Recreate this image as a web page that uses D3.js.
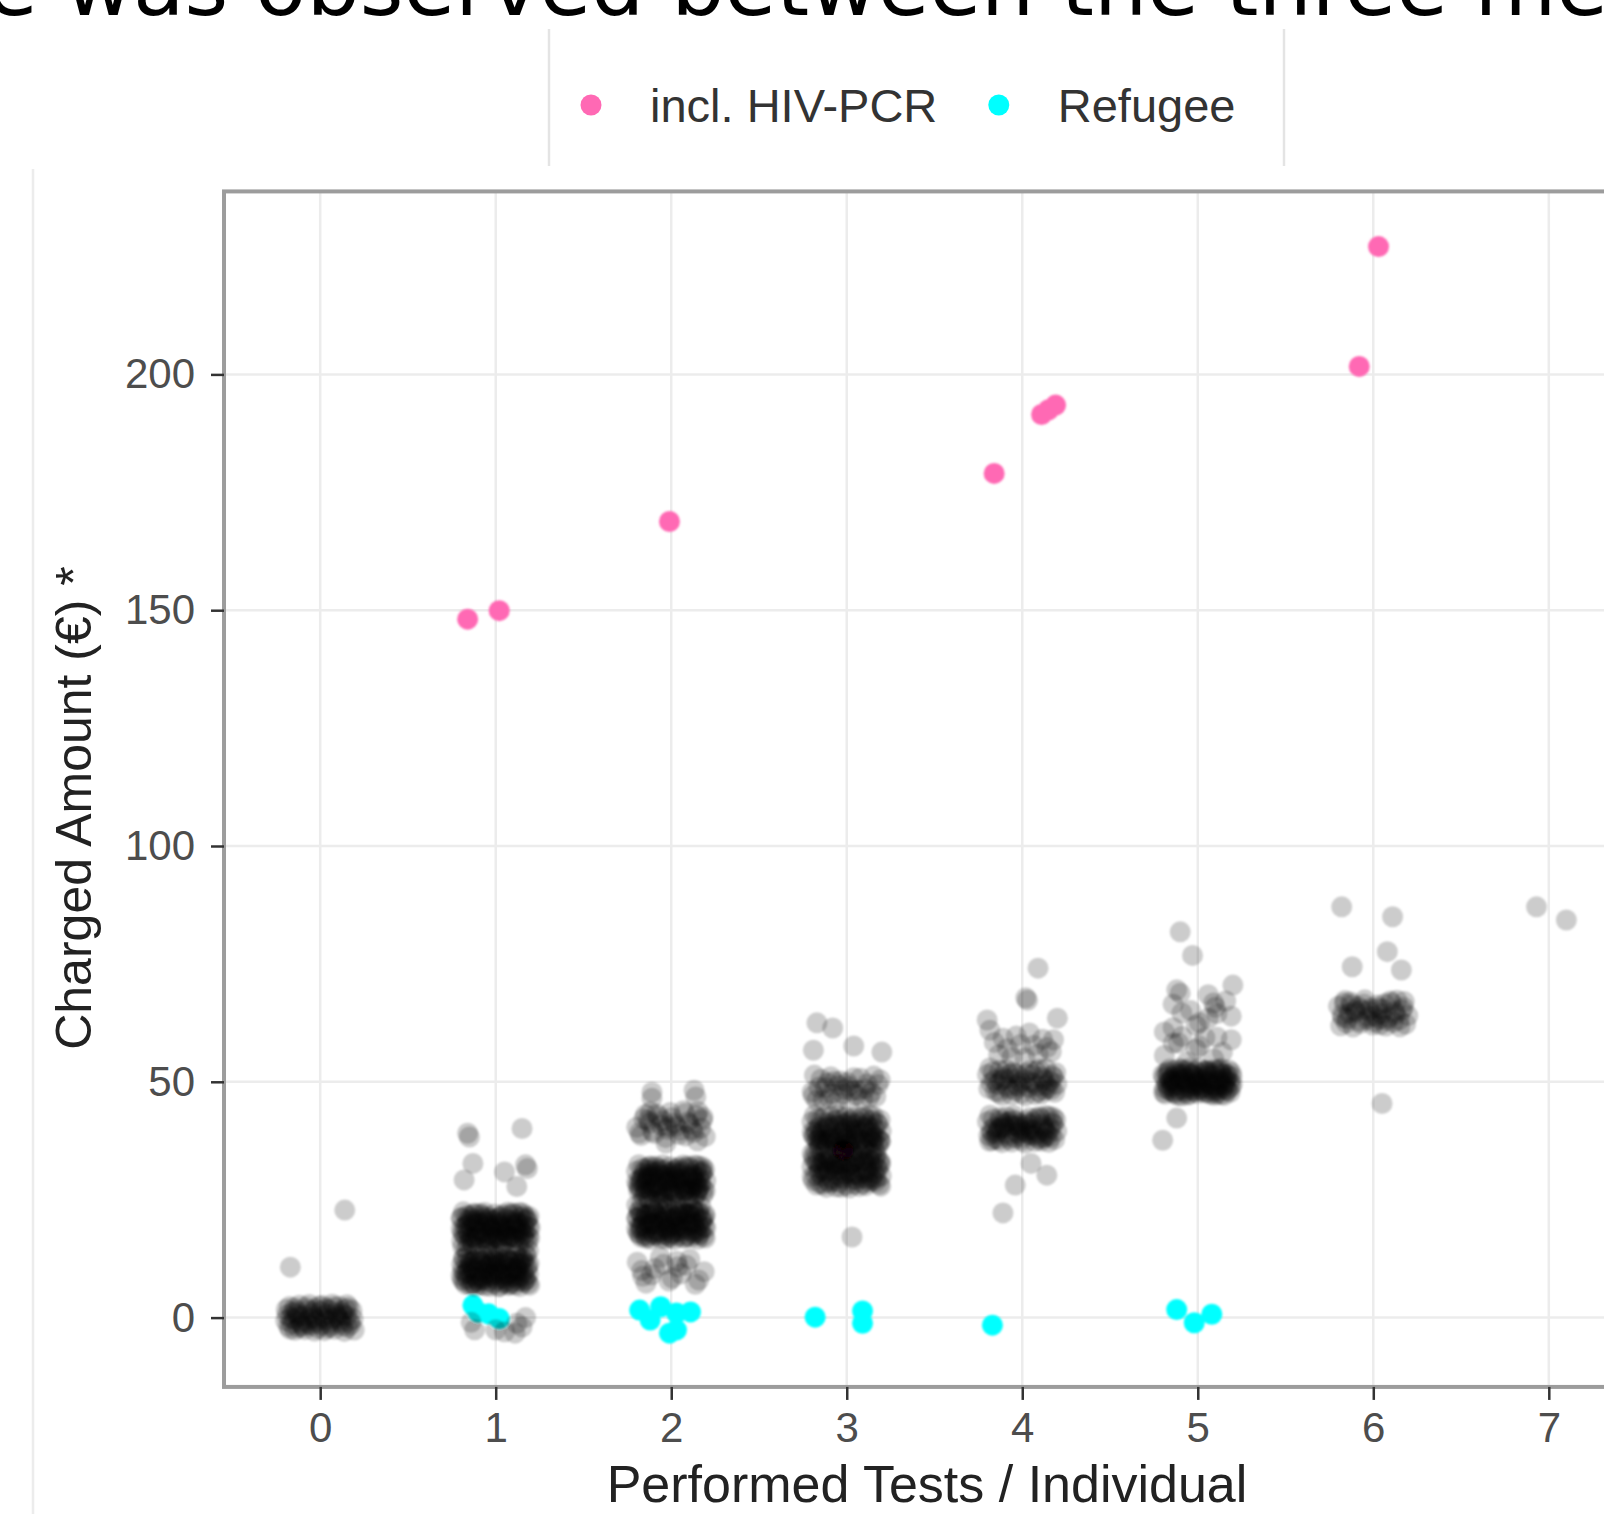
<!DOCTYPE html>
<html><head><meta charset="utf-8">
<script src="https://cdn.jsdelivr.net/npm/d3@7"></script>
<style>body{margin:0;background:#fff} svg{display:block}</style>
</head><body><svg id="c" width="1604" height="1514"></svg>
<script>
// ---------- data ----------
const headingText = "e was observed between the three me";
const xTicks = [0, 1, 2, 3, 4, 5, 6, 7];
const yTicks = [0, 50, 100, 150, 200];
const xTitle = "Performed Tests / Individual";
const yTitle = "Charged Amount (€) *";
const legendLabels = ["incl. HIV-PCR", "Refugee"];

// dense groups of individuals: [tests, charged amount (€), number of individuals]
const denseGroups = [
  [0, 0, 75],
  [1, 9.5, 110], [1, 14.5, 45], [1, 19.5, 110],
  [2, 10, 18], [2, 19.5, 110], [2, 24.5, 45], [2, 29.5, 110], [2, 41, 36],
  [3, 30.5, 80], [3, 35.5, 60], [3, 40, 80], [3, 48.5, 35],
  [4, 40, 80], [4, 50, 55], [4, 58, 16],
  [5, 50, 120], [5, 57, 10], [5, 62, 8], [5, 67, 5],
  [6, 64.5, 50]
];

// single individuals: [jittered tests, charged amount (€)]
const singlePoints = [
  [-0.17, 10.7], [0.14, 22.8],
  [0.84, 39.1], [0.85, 38.3], [1.15, 40.1], [0.87, 32.7], [0.82, 29.2], [1.05, 30.9],
  [1.17, 32.4], [1.18, 31.6], [1.12, 27.8],
  [0.88, -2.6], [1.0, -2.6], [1.11, -3.3], [1.17, 0], [1.12, -1.2], [0.86, -1.0], [1.15, -2.0], [1.05, -3.0],
  [1.89, 47.8], [2.13, 48.2], [1.89, 46.5], [2.14, 46.8], [1.97, 37], [2.15, 37.5],
  [2.83, 62.5], [2.92, 61.4], [3.04, 57.6], [3.2, 56.3], [2.81, 56.7], [3.03, 17.1],
  [4.09, 74.1], [4.02, 67.8], [4.03, 67.3], [3.8, 63.1], [4.2, 63.5],
  [4.05, 32.7], [4.14, 30.2], [3.96, 28.1], [3.89, 22.2],
  [4.9, 81.8], [4.97, 76.8], [5.2, 70.5], [4.88, 69.5], [4.9, 68.8], [5.09, 66.7], [5.1, 65.8],
  [4.86, 58.2], [4.88, 42.3], [4.8, 37.6],
  [5.82, 87.1], [6.11, 85.0], [6.08, 77.6], [6.16, 73.7], [5.88, 74.4], [6.05, 45.4],
  [6.93, 87.1], [7.10, 84.3]
];

// highlighted individuals: [jittered tests, charged amount (€)]
const hivPcrPoints = [
  [0.84, 148.1], [1.02, 149.9], [1.99, 168.8], [2.98, 35.5],
  [3.84, 179.0], [4.11, 191.5], [4.15, 192.5], [4.19, 193.5],
  [5.92, 201.7], [6.03, 227.1]
];
const refugeePoints = [
  [0.87, 2.6], [0.90, 1.2], [0.96, 0.8], [1.02, -0.2],
  [1.82, 1.6], [1.94, 2.3], [2.03, 1.0], [2.11, 1.2], [1.88, -0.5], [2.03, -2.6], [1.99, -3.3],
  [2.82, 0.1], [3.09, 1.4], [3.09, -1.2],
  [3.83, -1.6],
  [4.88, 1.7], [4.98, -1.1], [5.08, 0.7]
];

// ---------- drawing ----------
const svg = d3.select('#c');
const FONT = "'Liberation Sans', Arial, sans-serif";
const x = d3.scaleLinear().domain([0, 7]).range([320.2, 1548.8]);
const y = d3.scaleLinear().domain([0, 200]).range([1317.6, 374.4]);
const jitterW = 0.2, jitterH = 3, R = 10.5;
const colors = {hiv: '#ff69b4', refugee: '#00ffff'};

const pL = x(-0.548), pT = y(238.8), pB = y(-14.7), pR = 1640;

const defs = svg.append('defs');
defs.append('filter').attr('id', 'soft').append('feGaussianBlur').attr('stdDeviation', 0.9);

// heading fragment (cut off at top, as in the reference)
svg.append('text').attr('x', -14).attr('y', 15)
  .attr('font-family', "'DejaVu Sans', sans-serif").attr('font-size', 84)
  .attr('fill', '#000').text(headingText);

// layout rules
svg.append('line').attr('x1', 33).attr('x2', 33).attr('y1', 169).attr('y2', 1514)
  .attr('stroke', '#ececec').attr('stroke-width', 2.5);
[549, 1284].forEach(lx => svg.append('line').attr('x1', lx).attr('x2', lx).attr('y1', 29).attr('y2', 166)
  .attr('stroke', '#e4e4e4').attr('stroke-width', 2.5));

// grid
const g = svg.append('g');
g.selectAll('line.gx').data(xTicks).join('line').attr('class', 'gx')
  .attr('x1', d => x(d)).attr('x2', d => x(d)).attr('y1', pT).attr('y2', pB)
  .attr('stroke', '#ececec').attr('stroke-width', 2.5);
g.selectAll('line.gy').data(yTicks).join('line').attr('class', 'gy')
  .attr('x1', pL).attr('x2', pR).attr('y1', d => y(d)).attr('y2', d => y(d))
  .attr('stroke', '#ececec').attr('stroke-width', 2.5);

// points layer
const pts = svg.append('g').attr('filter', 'url(#soft)');
// colored points (underneath the translucent black ones)
pts.append('g').selectAll('circle').data(refugeePoints).join('circle')
  .attr('cx', d => x(d[0])).attr('cy', d => y(d[1])).attr('r', R).attr('fill', colors.refugee);
pts.append('g').selectAll('circle').data(hivPcrPoints).join('circle')
  .attr('cx', d => x(d[0])).attr('cy', d => y(d[1])).attr('r', R).attr('fill', colors.hiv);

// jitter (deterministic low-discrepancy, as geom_jitter)
function halton(i, b) { let f = 1, r = 0; while (i > 0) { f /= b; r += f * (i % b); i = Math.floor(i / b); } return r; }
const allBlack = [];
denseGroups.forEach(([t, v, n], gi) => {
  for (let i = 1; i <= n; i++) {
    const k = i + 3 + gi * 5;
    allBlack.push([t + (halton(k, 2) * 2 - 1) * jitterW, v + (halton(k, 3) * 2 - 1) * jitterH]);
  }
});
singlePoints.forEach(p => allBlack.push(p));
pts.append('g').selectAll('circle').data(allBlack).join('circle')
  .attr('cx', d => x(d[0])).attr('cy', d => y(d[1])).attr('r', R)
  .attr('fill', '#000').attr('fill-opacity', 0.2);

// panel border
svg.append('rect').attr('x', pL).attr('y', pT).attr('width', pR - pL).attr('height', pB - pT)
  .attr('fill', 'none').attr('stroke', '#9c9c9c').attr('stroke-width', 4);

// axes
const ya = svg.append('g').attr('transform', `translate(${pL},0)`)
  .call(d3.axisLeft(y).tickValues(yTicks).tickFormat(d3.format('d')).tickSize(13).tickPadding(16));
const xa = svg.append('g').attr('transform', `translate(0,${pB})`)
  .call(d3.axisBottom(x).tickValues(xTicks).tickFormat(d3.format('d')).tickSize(13).tickPadding(12));
[ya, xa].forEach(a => {
  a.select('.domain').remove();
  a.selectAll('line').attr('stroke', '#333').attr('stroke-width', 2.5);
  a.selectAll('text').attr('font-family', FONT).attr('font-size', 42).attr('fill', '#4d4d4d');
});

// axis titles
svg.append('text').attr('x', 927).attr('y', 1502).attr('text-anchor', 'middle')
  .attr('font-family', FONT).attr('font-size', 52).attr('fill', '#222').text(xTitle);
svg.append('text').attr('transform', 'translate(91,808) rotate(-90)').attr('text-anchor', 'middle')
  .attr('font-family', FONT).attr('font-size', 50).attr('fill', '#222').text(yTitle);

// legend
const lg = svg.append('g');
let lx = 591;
legendLabels.forEach((lab, i) => {
  lg.append('circle').attr('cx', lx).attr('cy', 105).attr('r', R)
    .attr('fill', i === 0 ? colors.hiv : colors.refugee);
  const t = lg.append('text').attr('x', lx + 59).attr('y', 122)
    .attr('font-family', FONT).attr('font-size', 47).attr('fill', '#333').text(lab);
  lx = lx + 59 + t.node().getComputedTextLength() + 61.5;
});
</script></body></html>
